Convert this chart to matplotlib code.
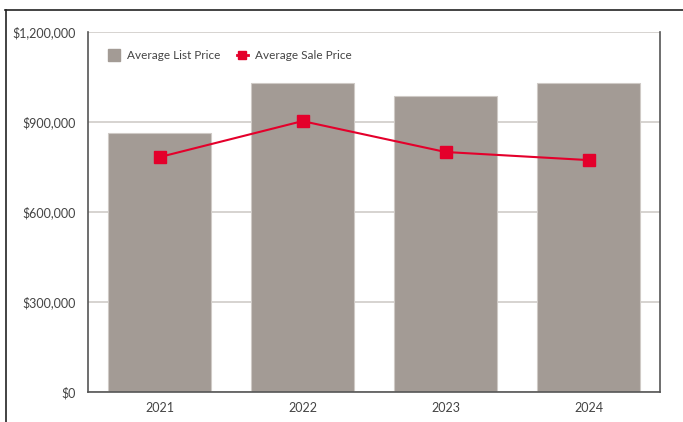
import numpy as np
import matplotlib
matplotlib.use("Agg")
import matplotlib.pyplot as plt
from matplotlib.lines import Line2D
from matplotlib.ticker import FuncFormatter

plt.rcParams['font.family'] = ['Lato', 'DejaVu Sans']

# data
years = ['2021', '2022', '2023', '2024']
list_price = [863000, 1030000, 988000, 1030000]
sale_price = [783000, 903000, 800000, 773000]

bar_color = '#a39b95'
line_color = '#e4002b'
text_color = '#444444'

fig = plt.figure(figsize=(6.83, 4.22), dpi=100)
ax = fig.add_axes([88/683, 1-392/422, 572/683, 360/422])

x = np.arange(len(years))
ax.bar(x, list_price, width=0.72, color=bar_color, edgecolor='#cfcac6',
       linewidth=0.8, zorder=2)
ax.plot(x, sale_price, color=line_color, lw=1.5, marker='s', ms=8, zorder=3)

ax.set_xlim(-0.5, 3.5)
ax.set_ylim(0, 1200000)
ax.set_yticks([0, 300000, 600000, 900000, 1200000])
ax.yaxis.set_major_formatter(FuncFormatter(lambda v, p: '${:,.0f}'.format(v)))
ax.set_xticks(x)
ax.set_xticklabels(years)
ax.yaxis.grid(True, color='#d0ccc8', lw=1.2, zorder=0)
ax.set_axisbelow(True)
ax.tick_params(length=0, colors=text_color, labelsize=9)
ax.tick_params(axis='y', pad=9)
ax.tick_params(axis='x', pad=7)

for s in ['left', 'bottom', 'right']:
    ax.spines[s].set_color('#555555')
    ax.spines[s].set_linewidth(1.2)
ax.spines['top'].set_visible(False)

# legend handles
h_list = Line2D([], [], ls='none', marker='s', ms=8.5, color=bar_color)
h_sale = Line2D([], [], color=line_color, lw=2, marker='s', ms=6)
leg = ax.legend([h_list, h_sale], ['Average List Price', 'Average Sale Price'],
                loc='upper left', ncol=2, frameon=False, fontsize=8.5,
                bbox_to_anchor=(0.016, 0.98), handlelength=1.0,
                handletextpad=0.6, columnspacing=1.4)
for t in leg.get_texts():
    t.set_color(text_color)

# outer frame lines
fig.add_artist(Line2D([5/683, 1], [1-10/422, 1-10/422], color='#222222', lw=1.2))
fig.add_artist(Line2D([6/683, 6/683], [0, 1-10/422], color='#222222', lw=1.2))

fig.savefig('out.png', dpi=100)
